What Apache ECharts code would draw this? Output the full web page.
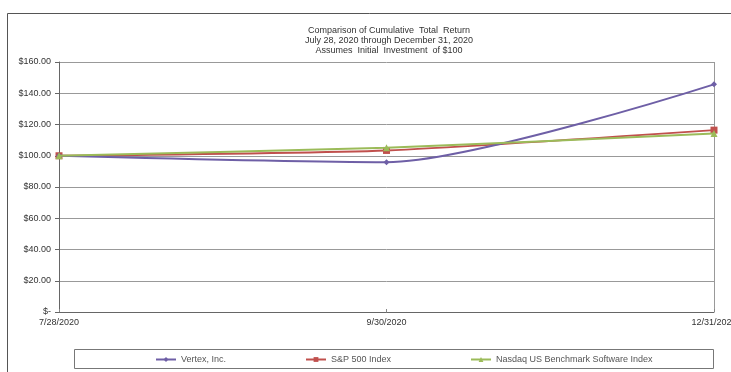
<!DOCTYPE html>
<html>
<head>
<meta charset="utf-8">
<script src="https://cdn.jsdelivr.net/npm/echarts@6/dist/echarts.min.js"></script>
<style>
html,body{margin:0;padding:0;background:#fff;}
#c{width:731px;height:372px;}
</style>
</head>
<body>
<div id="c"></div>
<script>
const titleLines = ['Comparison of Cumulative  Total  Return', 'July 28, 2020 through December 31, 2020', 'Assumes  Initial  Investment  of $100'];
const categories = ['7/28/2020', '9/30/2020', '12/31/2020'];
const vertex = [100, 95.9, 145.7];
const sp500 = [100, 103.4, 116.4];
const nasdaq = [100, 105.1, 114.3];
const seriesNames = ['Vertex, Inc.', 'S&P 500 Index', 'Nasdaq US Benchmark Software Index'];
const yTicks = [0, 20, 40, 60, 80, 100, 120, 140, 160];

const chart = echarts.init(document.getElementById('c'));
const font = 'Liberation Sans, Arial, sans-serif';
const colors = ['#6e5fa6', '#c0504d', '#9bbb59'];

function legendFor(i, left) {
  return {
    data: [seriesNames[i]], left: left, top: 355, itemWidth: 20, itemHeight: 6, itemGap: 4,
    textStyle: {fontFamily: font, fontSize: 9, color: '#555'}, padding: 0
  };
}

chart.setOption({
  animation: false,
  backgroundColor: '#fff',
  color: colors,
  title: {
    text: titleLines.join('\n'),
    left: 384, top: 21, textAlign: 'center',
    textStyle: {fontFamily: font, fontSize: 9, fontWeight: 'normal', color: '#333', lineHeight: 10}
  },
  graphic: [
    {type: 'line', shape: {x1: 7.5, y1: 13.5, x2: 731, y2: 13.5}, style: {stroke: '#555', lineWidth: 1}},
    {type: 'line', shape: {x1: 7.5, y1: 13.5, x2: 7.5, y2: 372}, style: {stroke: '#555', lineWidth: 1}},
    {type: 'rect', shape: {x: 74.5, y: 349.5, width: 639, height: 19}, style: {fill: 'none', stroke: '#777', lineWidth: 1}}
  ],
  legend: [legendFor(0, 155), legendFor(1, 305), legendFor(2, 470)],
  grid: {left: 59, right: 17, top: 62, bottom: 60, outerBoundsMode: 'none', containLabel: false},
  xAxis: {
    type: 'category', data: categories, boundaryGap: false,
    axisLine: {lineStyle: {color: '#666', width: 1}},
    axisTick: {show: true, inside: true, length: 3, lineStyle: {color: '#888'}},
    axisLabel: {fontFamily: font, fontSize: 9, color: '#333', margin: 6, showMaxLabel: true, hideOverlap: false},
    splitLine: {show: true, interval: (index) => index === categories.length - 1, lineStyle: {color: '#999', width: 1}}
  },
  yAxis: {
    type: 'value', min: 0, max: 160, interval: 20,
    axisLine: {show: true, lineStyle: {color: '#666', width: 1}},
    axisTick: {show: true, length: 4, lineStyle: {color: '#666'}},
    axisLabel: {fontFamily: font, fontSize: 9, color: '#333', margin: 8,
      formatter: v => yTicks.indexOf(v) >= 0 ? (v === 0 ? '$-' : '$' + v.toFixed(2)) : ''},
    splitLine: {show: true, lineStyle: {color: '#999', width: 1}}
  },
  series: [
    {name: seriesNames[0], type: 'line', data: vertex, smooth: 0.25, symbol: 'diamond', symbolSize: 6,
      lineStyle: {width: 2, color: colors[0]}, itemStyle: {color: colors[0]}, z: 3},
    {name: seriesNames[1], type: 'line', data: sp500, smooth: 0.2, symbol: 'rect', symbolSize: 7,
      lineStyle: {width: 2, color: colors[1]}, itemStyle: {color: colors[1]}, z: 2},
    {name: seriesNames[2], type: 'line', data: nasdaq, smooth: 0.2, symbol: 'triangle', symbolSize: 7,
      lineStyle: {width: 2, color: colors[2]}, itemStyle: {color: colors[2]}, z: 4}
  ]
});
</script>
</body>
</html>
